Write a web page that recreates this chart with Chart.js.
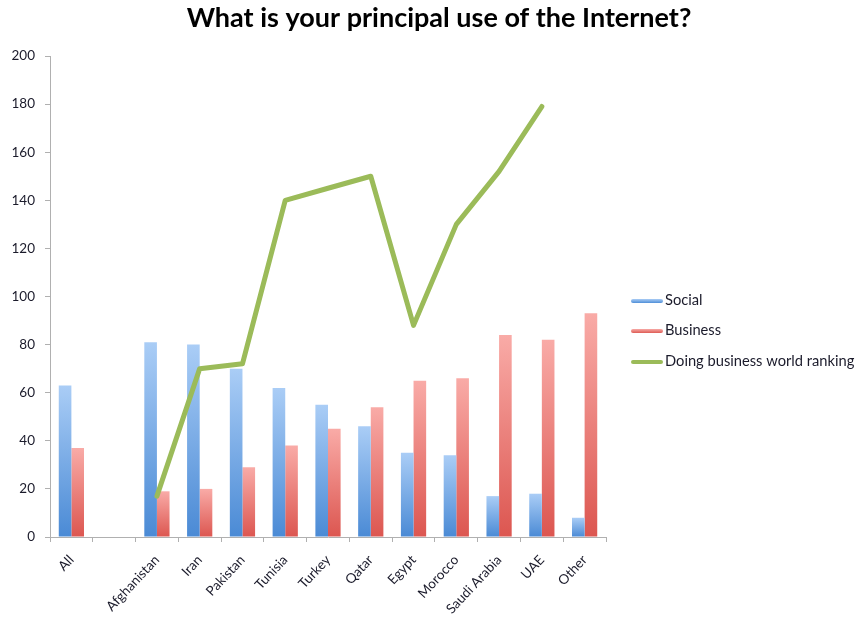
<!DOCTYPE html>
<html>
<head>
<meta charset="utf-8">
<script src="https://cdn.jsdelivr.net/npm/chart.js@4/dist/chart.umd.min.js"></script>
<style>
  html, body { margin: 0; padding: 0; background: #fff; }
  #wrap { width: 857px; height: 617px; }
</style>
</head>
<body>
<div id="wrap"><canvas id="c" width="857" height="617"></canvas></div>
<script>
const categories = ['All', '', 'Afghanistan', 'Iran', 'Pakistan', 'Tunisia', 'Turkey', 'Qatar', 'Egypt', 'Morocco', 'Saudi Arabia', 'UAE', 'Other'];
const socialValues = [63, null, 81, 80, 70, 62, 55, 46, 35, 34, 17, 18, 8];
const businessValues = [37, null, 19, 20, 29, 38, 45, 54, 65, 66, 84, 82, 93];
const rankingValues = [null, null, 17, 70, 72, 140, 145, 150, 88, 130, 152, 179, null];
const yTicks = [0, 20, 40, 60, 80, 100, 120, 140, 160, 180, 200];
const seriesNames = ['Social', 'Business', 'Doing business world ranking'];
const chartTitle = 'What is your principal use of the Internet?';

const FONT = 'Lato, "Liberation Sans", sans-serif';

function barGradient(topColor, bottomColor) {
  return function (c) {
    const chart = c.chart;
    const ys = chart.scales && chart.scales.y;
    if (c.type !== 'data' || !ys || c.raw == null || !isFinite(ys.getPixelForValue(0))) return bottomColor;
    const top = ys.getPixelForValue(c.raw);
    const bot = ys.getPixelForValue(0);
    if (!isFinite(top) || Math.abs(bot - top) < 1) return bottomColor;
    const g = chart.ctx.createLinearGradient(0, top, 0, bot);
    g.addColorStop(0, topColor);
    g.addColorStop(1, bottomColor);
    return g;
  };
}

const textPlugin = {
  id: 'titleAndLegend',
  afterDraw(chart) {
    const ctx = chart.ctx;
    ctx.save();
    // title
    ctx.fillStyle = '#000';
    ctx.font = 'bold 27px ' + FONT;
    ctx.textAlign = 'center';
    ctx.textBaseline = 'alphabetic';
    ctx.fillText(chartTitle, 439, 27);
    // legend
    const items = [
      { text: seriesNames[0], c1: '#a9ccf5', c2: '#4f8fd8', y: 301 },
      { text: seriesNames[1], c1: '#f7aaa6', c2: '#de5c55', y: 331 },
      { text: seriesNames[2], c1: '#9bbb59', c2: '#9bbb59', y: 362 }
    ];
    items.forEach(it => {
      const g = ctx.createLinearGradient(0, it.y - 2, 0, it.y + 2);
      g.addColorStop(0, it.c1);
      g.addColorStop(1, it.c2);
      ctx.fillStyle = g;
      ctx.beginPath();
      if (ctx.roundRect) ctx.roundRect(631, it.y - 2, 32, 4, 2); else ctx.rect(631, it.y - 2, 32, 4);
      ctx.fill();
      ctx.fillStyle = '#1b1b2b';
      ctx.font = '14.7px ' + FONT;
      ctx.textBaseline = 'middle';
      ctx.textAlign = 'left';
      ctx.fillText(it.text, 665, it.y - 1);
    });
    ctx.restore();
  }
};

new Chart(document.getElementById('c'), {
  data: {
    labels: categories,
    datasets: [
      {
        type: 'line',
        label: seriesNames[2],
        data: rankingValues,
        borderColor: '#9bbb59',
        backgroundColor: '#9bbb59',
        borderWidth: 5,
        pointRadius: 0,
        pointHoverRadius: 0,
        tension: 0,
        borderJoinStyle: 'round',
        borderCapStyle: 'round',
        spanGaps: false,
        order: 0
      },
      {
        type: 'bar',
        label: seriesNames[0],
        data: socialValues,
        backgroundColor: barGradient('#aacdf6', '#4a8ad5'),
        borderWidth: 0,
        categoryPercentage: 0.59,
        barPercentage: 1.0,
        order: 1
      },
      {
        type: 'bar',
        label: seriesNames[1],
        data: businessValues,
        backgroundColor: barGradient('#f9aba7', '#dc5650'),
        borderWidth: 0,
        categoryPercentage: 0.59,
        barPercentage: 1.0,
        order: 1
      }
    ]
  },
  options: {
    responsive: false,
    animation: false,
    devicePixelRatio: 1,
    layout: { padding: { left: 0, right: 0, top: 56, bottom: 0 } },
    plugins: {
      legend: { display: false },
      tooltip: { enabled: false },
      title: { display: false }
    },
    scales: {
      x: {
        type: 'category',
        offset: true,
        grid: {
          display: true,
          offset: true,
          drawOnChartArea: false,
          drawTicks: true,
          tickLength: 5,
          color: '#b0b0b0'
        },
        border: { display: true, color: '#b0b0b0', width: 1 },
        ticks: {
          color: '#1b1b2b',
          font: { family: FONT, size: 13.5 },
          minRotation: 47,
          maxRotation: 47,
          autoSkip: false,
          padding: 10
        },
        afterFit(s) { s.height = 80; }
      },
      y: {
        position: 'left',
        min: 0,
        max: 200,
        afterBuildTicks(s) { s.ticks = yTicks.map(v => ({ value: v })); },
        grid: {
          display: true,
          drawOnChartArea: false,
          drawTicks: true,
          tickLength: 5,
          color: '#b0b0b0'
        },
        border: { display: true, color: '#b0b0b0', width: 1 },
        ticks: {
          color: '#1b1b2b',
          font: { family: FONT, size: 13.5 },
          padding: 10
        },
        afterFit(s) { s.width = 50; }
      },
      yRight: {
        position: 'right',
        display: true,
        min: 0,
        max: 200,
        grid: { display: false, drawTicks: false },
        border: { display: false },
        ticks: { display: false },
        afterFit(s) { s.width = 251; }
      }
    }
  },
  plugins: [textPlugin]
});
</script>
</body>
</html>
